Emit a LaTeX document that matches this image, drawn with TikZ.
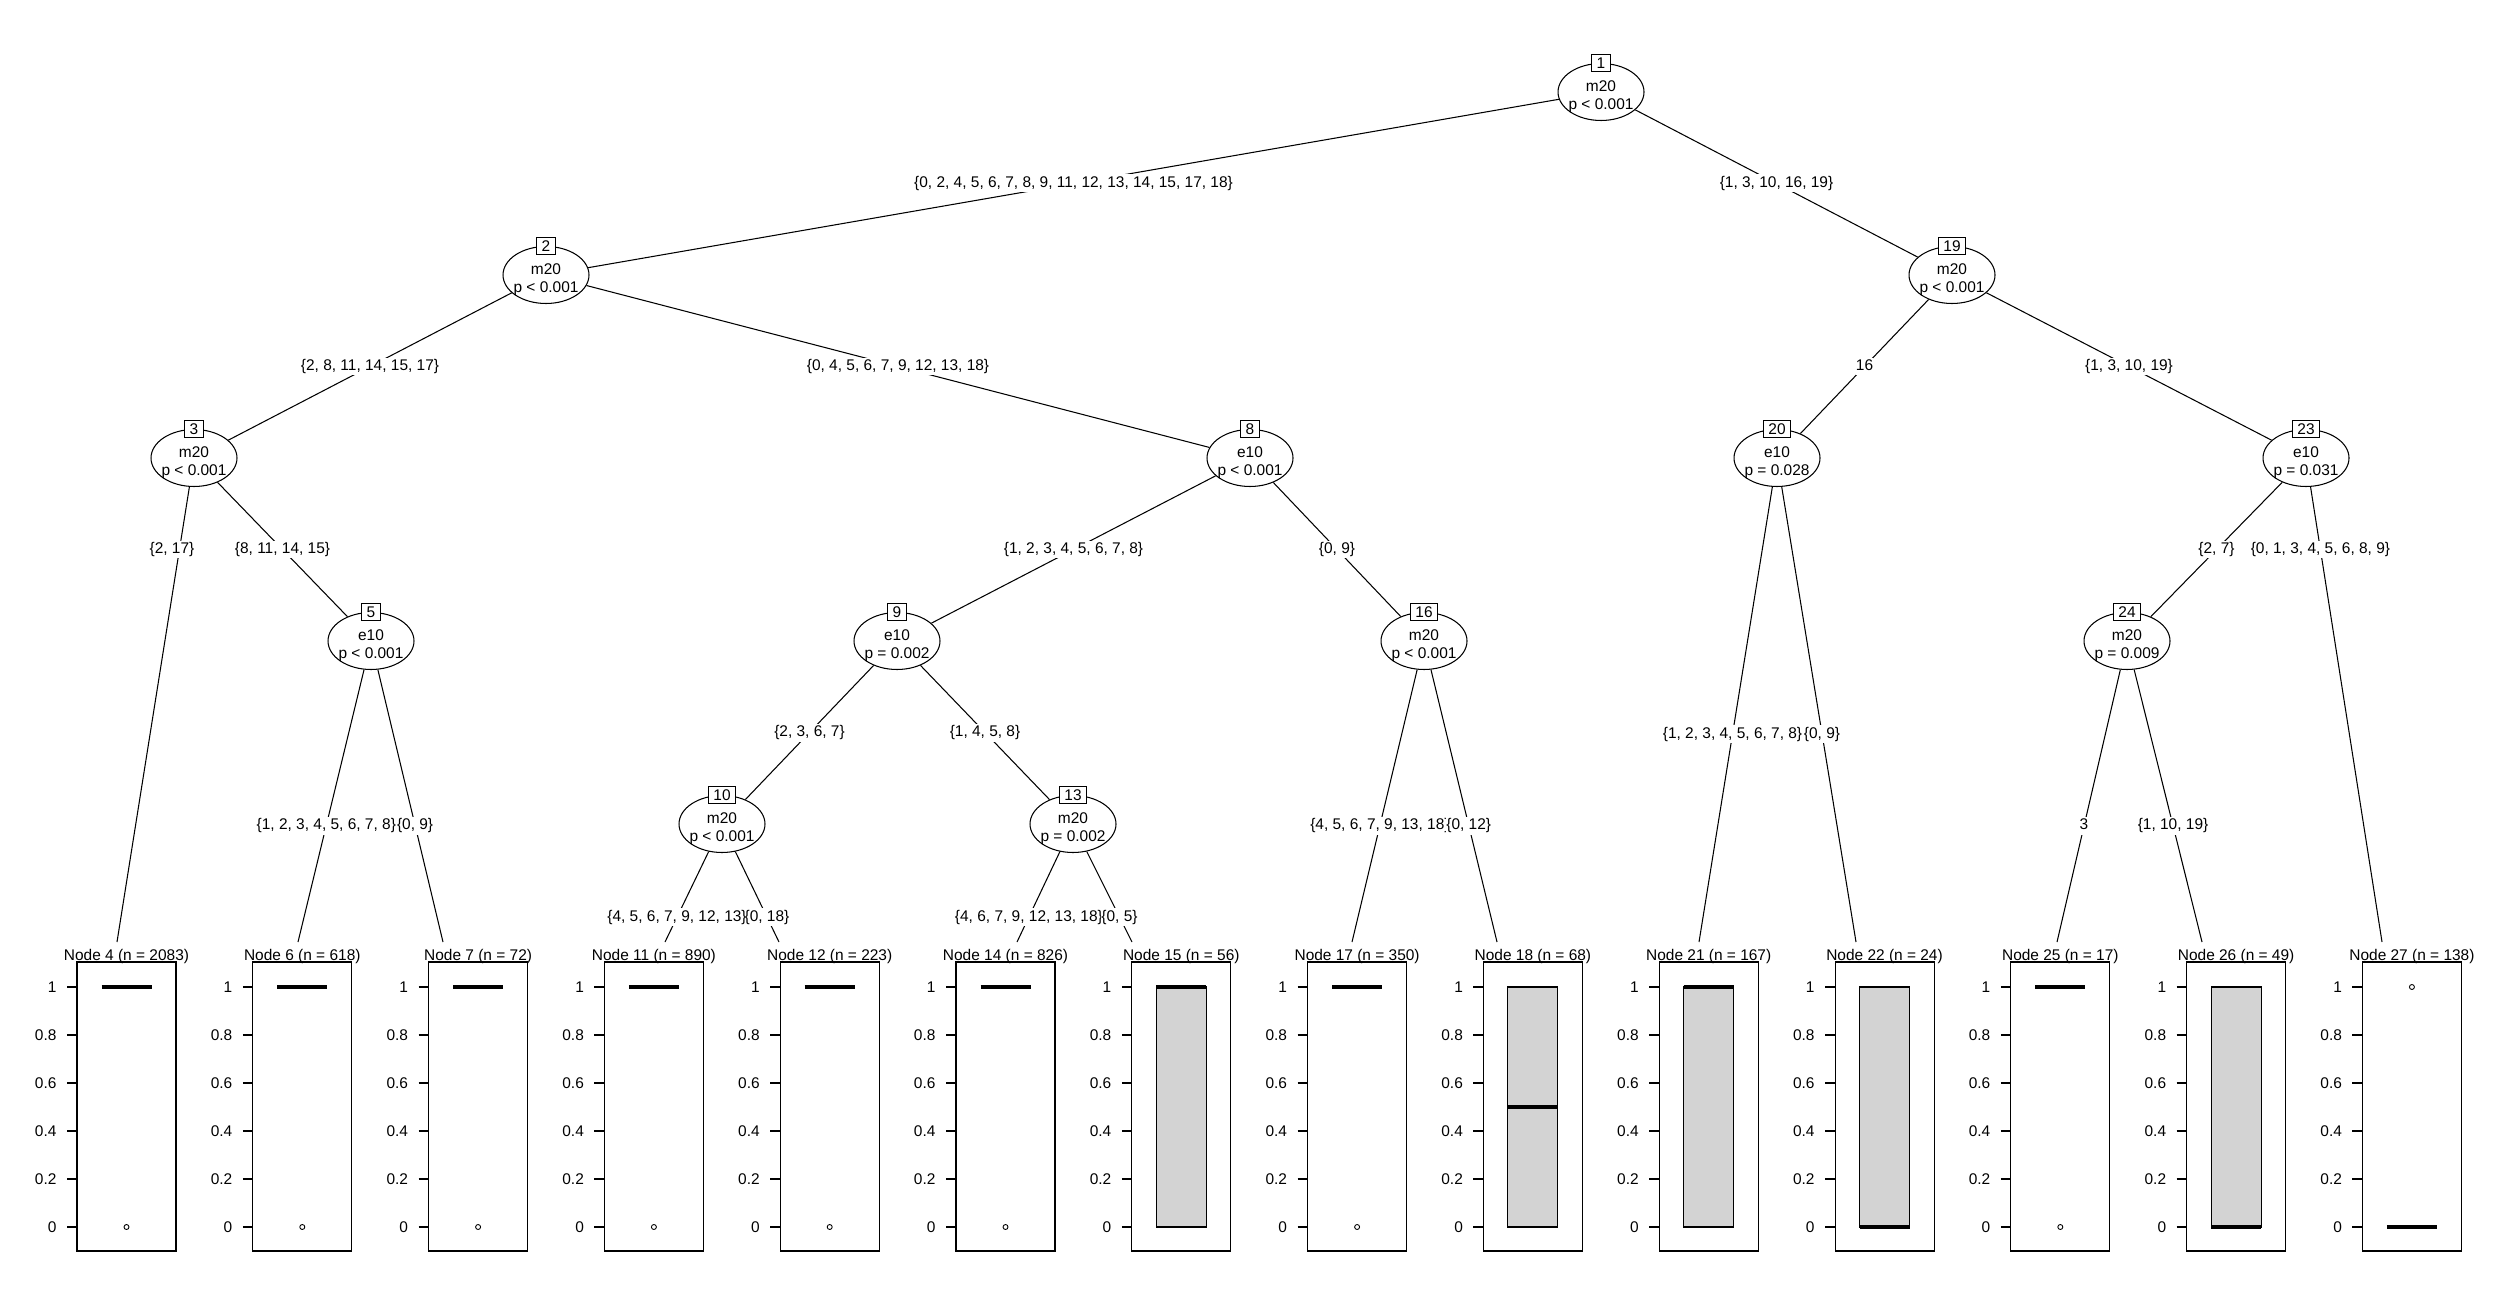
\documentclass[tikz,border=0pt]{standalone}
\usepackage{fontspec}
\setmainfont{Liberation Sans}
\usetikzlibrary{shapes.geometric}
\definecolor{boxgray}{HTML}{D3D3D3}
\newcommand{\InnerNode}[6]{%
  \node[innernode] (#1) at (#2,#3) {};
  \node[numbox] (#1num) at (#1.north) {#4};
  \node[txt] (#1var) at (#2,{#3-0.5}) {#5};
  \node[txt] (#1p) at (#2,{#3+17.5}) {#6};
}
\newcommand{\MedAt}[1]{\draw[med] (-25,{1227-240*#1}) -- (25,{1227-240*#1});}
\newcommand{\OutAt}[1]{\draw[line width=0.5pt] (0,{1227-240*#1}) circle[radius=0.05cm];}
\newcommand{\GBox}{\draw[gbox] (-25,987) rectangle (25,1227);}
\newcommand{\TermPanel}[4]{%
  \begin{scope}[shift={(#2,0)}]
    \draw[tbox] (-49.5,962) rectangle (49.5,1251);
    \foreach \v/\t [count=\k] in {0/0,0.2/0.2,0.4/0.4,0.6/0.6,0.8/0.8,1/1} {
      \draw (-59.5,{1227-240*\v}) -- (-49.5,{1227-240*\v});
      \node[anchor=base east, inner sep=0pt] (#1tk\k) at (-69.5,{1232.5-240*\v}) {\t};
    }
    #4
  \end{scope}
  \node[txt] (#1lab) at (#2,960) {#3};
}
\begin{document}
\begin{tikzpicture}[x=0.02cm,y=-0.02cm,
  font=\fontsize{8.8}{10.5}\selectfont, line width=0.6pt,
  innernode/.style={ellipse, draw, fill=white, minimum width=1.72cm, minimum height=1.14cm, inner sep=0pt},
  numbox/.style={rectangle, draw, fill=white, inner xsep=0.1cm, inner ysep=0pt, minimum height=0.34cm, text height=6.3pt, text depth=0pt},
  txt/.style={anchor=base, inner sep=0pt},
  elab/.style={fill=white, inner xsep=0pt, inner ysep=0pt, minimum height=0.36cm, text height=6.6pt, text depth=1.9pt},
  med/.style={line width=1.8pt},
  tbox/.style={draw, line width=0.6pt},
  gbox/.style={draw, fill=boxgray, line width=0.6pt}]
\useasboundingbox[fill=white] (0,0) rectangle (2500,1300);

% inner nodes
\InnerNode{n1}{1601}{92}{1}{m20}{p < 0.001}
\InnerNode{n2}{546}{275}{2}{m20}{p < 0.001}
\InnerNode{n19}{1952}{275}{19}{m20}{p < 0.001}
\InnerNode{n3}{194}{458}{3}{m20}{p < 0.001}
\InnerNode{n8}{1250}{458}{8}{e10}{p < 0.001}
\InnerNode{n20}{1777}{458}{20}{e10}{p = 0.028}
\InnerNode{n23}{2306}{458}{23}{e10}{p = 0.031}
\InnerNode{n5}{371}{641}{5}{e10}{p < 0.001}
\InnerNode{n9}{897}{641}{9}{e10}{p = 0.002}
\InnerNode{n16}{1424}{641}{16}{m20}{p < 0.001}
\InnerNode{n24}{2127}{641}{24}{m20}{p = 0.009}
\InnerNode{n10}{722}{824}{10}{m20}{p < 0.001}
\InnerNode{n13}{1073}{824}{13}{m20}{p = 0.002}

% terminal edge end points
\coordinate (e4) at (117,942);
\coordinate (e6) at (298,942);
\coordinate (e7) at (443,942);
\coordinate (e11) at (665,942);
\coordinate (e12) at (779,942);
\coordinate (e14) at (1017,942);
\coordinate (e15) at (1132,942);
\coordinate (e17) at (1352,942);
\coordinate (e18) at (1497,942);
\coordinate (e21) at (1699,942);
\coordinate (e22) at (1856,942);
\coordinate (e25) at (2057,942);
\coordinate (e26) at (2202,942);
\coordinate (e27) at (2382,942);

% edges
\draw (n1) -- (n2);
\draw (n1) -- (n19);
\draw (n2) -- (n3);
\draw (n2) -- (n8);
\draw (n19) -- (n20);
\draw (n19) -- (n23);
\draw (n3) -- (e4);
\draw (n3) -- (n5);
\draw (n8) -- (n9);
\draw (n8) -- (n16);
\draw (n20) -- (e21);
\draw (n20) -- (e22);
\draw (n23) -- (n24);
\draw (n23) -- (e27);
\draw (n5) -- (e6);
\draw (n5) -- (e7);
\draw (n9) -- (n10);
\draw (n9) -- (n13);
\draw (n16) -- (e17);
\draw (n16) -- (e18);
\draw (n24) -- (e25);
\draw (n24) -- (e26);
\draw (n10) -- (e11);
\draw (n10) -- (e12);
\draw (n13) -- (e14);
\draw (n13) -- (e15);

% edge labels
\node[elab] (l2) at (1073.5,183.5) {\{0, 2, 4, 5, 6, 7, 8, 9, 11, 12, 13, 14, 15, 17, 18\}};
\node[elab] (l19) at (1776.5,183.5) {\{1, 3, 10, 16, 19\}};
\node[elab] (l3) at (370,366.5) {\{2, 8, 11, 14, 15, 17\}};
\node[elab] (l8) at (898,366.5) {\{0, 4, 5, 6, 7, 9, 12, 13, 18\}};
\node[elab] (l20) at (1864.5,366.5) {16};
\node[elab] (l23) at (2129,366.5) {\{1, 3, 10, 19\}};
\node[elab] (l4) at (172,549.5) {\{2, 17\}};
\node[elab] (l5) at (282.5,549.5) {\{8, 11, 14, 15\}};
\node[elab] (l9) at (1073.5,549.5) {\{1, 2, 3, 4, 5, 6, 7, 8\}};
\node[elab] (l16) at (1337,549.5) {\{0, 9\}};
\node[elab] (l24) at (2216.5,549.5) {\{2, 7\}};
\node[elab] (l27) at (2320.4,549.5) {\{0, 1, 3, 4, 5, 6, 8, 9\}};
\node[elab] (l21) at (1732.5,734) {\{1, 2, 3, 4, 5, 6, 7, 8\}};
\node[elab] (l22) at (1822,734) {\{0, 9\}};
\node[elab] (l10) at (809.5,732.5) {\{2, 3, 6, 7\}};
\node[elab] (l13) at (985,732.5) {\{1, 4, 5, 8\}};
\node[elab] (l6) at (326.3,825.5) {\{1, 2, 3, 4, 5, 6, 7, 8\}};
\node[elab] (l7) at (415.1,825.5) {\{0, 9\}};
\node[elab] (l17) at (1379.9,825.5) {\{4, 5, 6, 7, 9, 13, 18\}};
\node[elab] (l18) at (1468.7,825.5) {\{0, 12\}};
\node[elab] (l25) at (2084,825.5) {3};
\node[elab] (l26) at (2173,825.5) {\{1, 10, 19\}};
\node[elab] (l11) at (677,917) {\{4, 5, 6, 7, 9, 12, 13\}};
\node[elab] (l12) at (767,917) {\{0, 18\}};
\node[elab] (l14) at (1028.9,917) {\{4, 6, 7, 9, 12, 13, 18\}};
\node[elab] (l15) at (1119.5,917) {\{0, 5\}};

% terminal panels
\TermPanel{t4}{126.5}{Node 4 (n = 2083)}{\MedAt{1}\OutAt{0}}
\TermPanel{t6}{302.3}{Node 6 (n = 618)}{\MedAt{1}\OutAt{0}}
\TermPanel{t7}{478.1}{Node 7 (n = 72)}{\MedAt{1}\OutAt{0}}
\TermPanel{t11}{653.9}{Node 11 (n = 890)}{\MedAt{1}\OutAt{0}}
\TermPanel{t12}{829.7}{Node 12 (n = 223)}{\MedAt{1}\OutAt{0}}
\TermPanel{t14}{1005.5}{Node 14 (n = 826)}{\MedAt{1}\OutAt{0}}
\TermPanel{t15}{1181.3}{Node 15 (n = 56)}{\GBox\MedAt{1}}
\TermPanel{t17}{1357.1}{Node 17 (n = 350)}{\MedAt{1}\OutAt{0}}
\TermPanel{t18}{1532.9}{Node 18 (n = 68)}{\GBox\MedAt{0.5}}
\TermPanel{t21}{1708.7}{Node 21 (n = 167)}{\GBox\MedAt{1}}
\TermPanel{t22}{1884.5}{Node 22 (n = 24)}{\GBox\MedAt{0}}
\TermPanel{t25}{2060.3}{Node 25 (n = 17)}{\MedAt{1}\OutAt{0}}
\TermPanel{t26}{2236.1}{Node 26 (n = 49)}{\GBox\MedAt{0}}
\TermPanel{t27}{2411.9}{Node 27 (n = 138)}{\MedAt{0}\OutAt{1}}
\end{tikzpicture}
\end{document}
